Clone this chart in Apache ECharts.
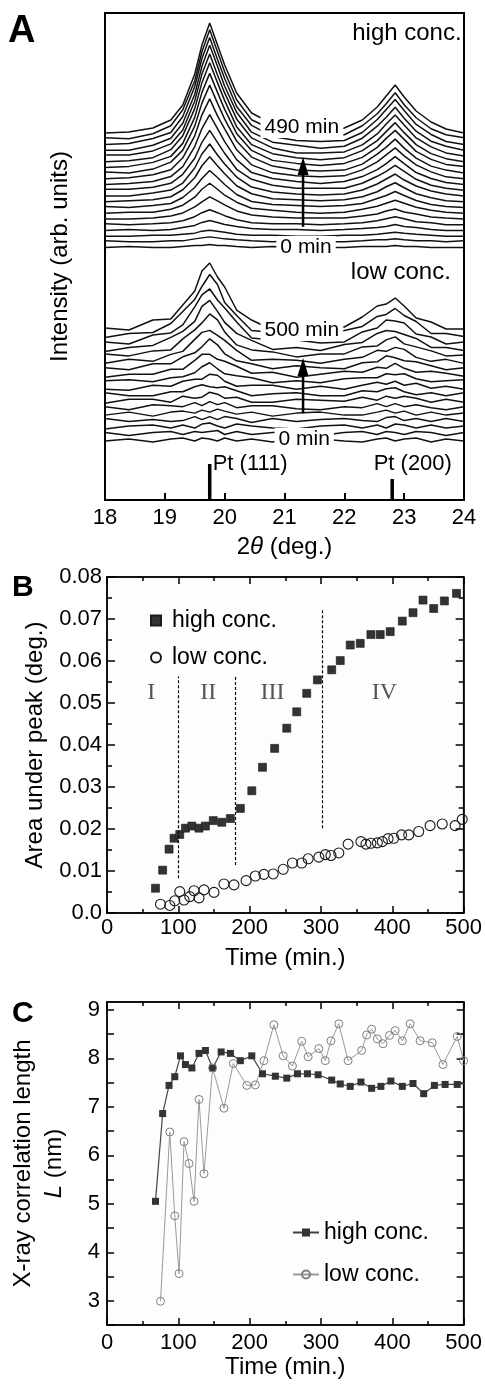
<!DOCTYPE html>
<html><head><meta charset="utf-8">
<script src="https://cdn.jsdelivr.net/npm/echarts@6/dist/echarts.min.js"></script>
<style>html,body{margin:0;padding:0;background:#fff}#c{width:485px;height:1385px}</style>
</head><body><div id="c"></div>
<script>
// ---------- Panel A: XRD waterfall ----------
const twoTheta = [18.0,18.4,18.8,19.1,19.3,19.5,19.62,19.75,19.88,20.0,20.2,20.45,20.8,21.2,21.6,22.0,22.3,22.55,22.7,22.85,23.0,23.2,23.45,23.7,24.0];
// high conc. curves, 0 min (first) ... 490 min (last), intensity above each curve's own baseline (arb. units)
const highCurves = [
 [0,1,0,0,1,2,2,3,2,2,1,0,1,0,0,0,1,1,1,2,1,1,0,0,0],
 [1,0,0,1,1,3,4,5,4,3,2,1,0,1,0,0,1,2,2,3,2,1,1,0,1],
 [0,0,1,1,2,3,5,6,5,4,2,1,1,0,0,1,1,2,3,4,3,2,1,0,0],
 [0,1,0,1,3,5,8,10,8,6,4,2,1,1,0,1,2,3,4,6,4,3,1,0,0],
 [1,0,1,2,4,8,12,15,12,9,5,2,1,1,0,1,2,4,6,8,6,3,2,0,0],
 [0,0,1,3,6,12,17,22,18,14,8,4,2,1,1,1,3,5,8,10,7,5,2,1,0],
 [0,1,1,4,8,16,24,30,24,18,11,5,3,1,0,1,4,7,10,13,10,6,3,1,0],
 [1,0,2,4,10,20,29,37,30,23,13,6,3,2,1,2,4,9,12,16,12,7,3,1,0],
 [0,1,2,5,12,24,36,45,36,28,16,8,3,2,1,2,5,10,15,19,14,8,4,1,0],
 [0,0,3,6,13,28,42,52,41,32,19,9,4,2,1,2,6,12,17,22,16,10,5,2,0],
 [1,1,3,7,16,32,48,60,48,37,21,11,5,2,2,2,7,14,19,25,19,11,5,2,0],
 [0,1,3,8,18,38,56,70,56,43,25,12,6,3,1,3,8,15,21,28,21,12,6,2,0],
 [0,1,4,9,21,43,64,80,63,50,29,14,6,3,2,3,9,17,24,31,23,14,7,2,0],
 [1,0,4,11,23,47,70,88,70,54,32,16,7,3,2,3,9,19,26,34,25,15,7,3,0],
 [0,1,5,11,24,50,75,94,75,58,34,17,7,4,2,4,10,20,29,37,28,16,8,3,1],
 [0,1,4,12,26,53,79,99,79,61,35,17,8,4,2,4,11,21,30,39,29,17,8,3,0],
 [1,1,5,12,26,55,82,102,81,63,37,18,8,3,3,4,11,22,32,41,31,18,9,3,0],
 [0,0,5,12,27,56,84,105,84,64,38,18,8,5,2,4,12,24,33,43,32,19,9,4,0],
 [0,1,6,12,28,58,86,107,85,66,38,19,8,4,3,4,12,25,35,45,34,20,10,3,0],
 [1,0,5,13,29,58,87,109,87,67,39,19,9,5,3,4,13,25,35,46,34,21,10,4,1],
 [0,1,5,13,28,59,88,110,88,68,40,20,9,5,3,5,13,26,37,48,36,22,11,4,0]
];
// low conc. curves, 0 min (first) ... 500 min (last)
const lowCurves = [
 [-1,1,-2,1,2,-1,2,1,-1,2,-1,1,-2,2,1,-1,-2,1,2,-1,1,2,-2,1,-1],
 [1,-2,1,2,-1,2,1,2,3,-1,2,-1,1,2,-2,1,2,-1,2,1,-1,2,1,-2,1],
 [-2,1,2,-1,2,-1,3,4,1,-1,3,1,-1,-2,1,2,-1,2,-1,3,2,-1,2,-1,1],
 [2,-1,1,-1,0,4,1,4,1,4,2,-2,2,-1,1,2,0,-1,3,4,0,2,-1,2,-1],
 [-1,2,-2,2,3,1,4,2,5,3,0,2,-2,1,2,-1,-1,2,4,1,3,-1,2,-1,1],
 [1,-2,3,2,1,5,2,6,3,5,0,2,2,-1,-2,1,0,4,1,4,1,3,0,-2,1],
 [-2,2,2,-1,5,3,4,9,7,3,4,-1,-1,2,1,0,4,1,5,3,5,3,-1,2,-1],
 [2,-1,-1,3,3,8,10,8,7,8,4,-1,1,2,-1,-1,4,3,6,7,3,0,2,-1,2],
 [-1,-2,3,2,7,9,9,14,13,7,2,3,3,-1,2,-1,3,6,4,7,3,5,0,2,-1],
 [1,2,0,4,5,9,15,19,13,8,6,4,-1,1,-1,3,4,4,8,7,8,3,0,1,2],
 [-2,1,1,6,6,15,21,21,16,14,9,2,3,-2,1,4,3,8,7,12,7,3,4,2,-1],
 [1,-1,5,5,12,16,22,30,24,15,8,5,0,3,1,0,6,7,13,11,8,7,3,-1,1],
 [-1,3,1,8,11,23,30,32,27,22,12,2,3,2,-1,3,5,12,11,15,13,5,1,3,-1],
 [2,0,5,6,17,26,33,42,36,24,11,6,4,-1,2,2,9,10,16,19,12,9,5,0,1],
 [-2,2,4,12,18,28,43,49,38,27,16,9,0,2,-1,5,7,16,19,18,15,11,2,2,-1],
 [1,-1,8,10,18,36,48,54,43,35,21,5,3,3,0,1,11,15,23,22,20,9,6,-1,1],
 [-1,3,4,13,25,37,50,62,52,34,21,6,4,-1,2,6,10,20,22,28,21,15,3,3,0],
 [2,0,10,11,25,39,59,67,53,43,20,10,0,2,4,3,13,24,26,32,24,12,8,1,1]
];
const highOffset0 = 252.4, highStep = 5.73;   // waterfall offsets (arb. units)
const lowOffset0 = 60, lowStep = 6.47;
const ptPos = [19.75, 22.8];
const ptIntensity = [36, 21];
const ptNames = ['Pt (111)', 'Pt (200)'];

// ---------- Panel B: area under peak ----------
const timeHighB = [68,78,87,94,102,110,119,129,138,149,161,173,187,203,218,235,252,266,280,295,315,327,341,355,370,383,397,414,429,443,458,473,490];
const areaHighB = [0.0059,0.0102,0.0152,0.0178,0.0187,0.0202,0.0207,0.0202,0.0207,0.0220,0.0216,0.0225,0.0249,0.0291,0.0347,0.0392,0.0440,0.0479,0.0523,0.0555,0.0579,0.0601,0.0638,0.0642,0.0663,0.0663,0.0670,0.0695,0.0715,0.0745,0.0725,0.0743,0.0761];
const timeLowB = [75,88,95,102,108,116,122,129,136,150,164,178,195,208,220,233,247,260,273,282,297,306,314,325,338,356,363,370,379,386,394,402,413,423,437,453,470,488,498];
const areaLowB = [0.0021,0.0018,0.0029,0.0051,0.0031,0.0039,0.0053,0.0036,0.0055,0.0049,0.0069,0.0067,0.0077,0.0088,0.0092,0.0093,0.0104,0.0119,0.0119,0.0129,0.0133,0.0139,0.0137,0.0143,0.0164,0.0170,0.0164,0.0166,0.0167,0.0170,0.0177,0.0178,0.0186,0.0186,0.0194,0.0208,0.0212,0.0208,0.0223];
const stageBounds = [100, 180, 302];
const stageNames = ['I','II','III','IV'];

// ---------- Panel C: correlation length ----------
const timeHighC = [68,78,87,95,103,110,119,129,138,148,160,173,187,203,218,236,252,267,281,296,315,327,341,356,371,384,398,414,429,444,459,474,491,505];
const lenHighC = [5.05,6.86,7.44,7.62,8.05,7.87,7.80,8.10,8.16,7.80,8.13,8.10,7.95,8.05,7.68,7.63,7.59,7.68,7.68,7.66,7.55,7.47,7.42,7.51,7.38,7.42,7.53,7.42,7.48,7.27,7.44,7.46,7.46,7.49];
const timeLowC = [75,88,95,101,108,115,122,129,136,148,164,177,196,208,220,234,247,260,273,282,297,306,314,325,338,357,364,371,379,387,396,404,414,425,439,456,471,491,500];
const lenLowC = [2.99,6.48,4.75,3.56,6.28,5.83,5.05,7.15,5.62,7.80,6.97,7.89,7.44,7.45,7.95,8.69,8.05,7.84,8.35,8.03,8.20,7.95,8.36,8.71,7.95,8.16,8.48,8.60,8.40,8.30,8.47,8.57,8.36,8.71,8.36,8.32,7.87,8.45,7.95];

const FONT = "'Liberation Sans', Arial, sans-serif";
const chart = echarts.init(document.getElementById('c'), null, {renderer:'canvas'});

const tickStyle = {color:'#000', width:1.5};
function baseX(grid, pos, showLabel, extra) {
  return Object.assign({
    gridIndex: grid, type:'value', position: pos, min:0, max:500, interval:100,
    axisLine:{show:true, onZero:false, lineStyle:{color:'#000', width:1.5}},
    axisTick:{show:true, inside:true, length:7, lineStyle:tickStyle},
    minorTick:{show:true, splitNumber:2, length:4, lineStyle:tickStyle},
    axisLabel:{show:showLabel, fontSize:22, color:'#000', fontFamily:FONT, margin:5},
    splitLine:{show:false}, minorSplitLine:{show:false}
  }, extra || {});
}

const series = [];
highCurves.forEach((c, n) => series.push({
  type:'line', xAxisIndex:0, yAxisIndex:0, symbol:'none', silent:true, z:2, animation:false,
  lineStyle:{color:'#111', width:1.5},
  data: twoTheta.map((x, i) => [x, highOffset0 + n * highStep + c[i]])
}));
lowCurves.forEach((c, n) => series.push({
  type:'line', xAxisIndex:0, yAxisIndex:0, symbol:'none', silent:true, z:2, animation:false,
  lineStyle:{color:'#111', width:1.5},
  data: twoTheta.map((x, i) => [x, lowOffset0 + n * lowStep + c[i]])
}));
// Pt reference sticks
ptPos.forEach((p, i) => series.push({
  type:'line', xAxisIndex:0, yAxisIndex:0, symbol:'none', silent:true, z:3, animation:false,
  lineStyle:{color:'#000', width:3.5},
  data:[[p, 0], [p, ptIntensity[i]]]
}));
// arrows
const arrowX = 21.31;
const arrows = [[273.3, 333], [86.7, 132]];
arrows.forEach(a => {
  series.push({type:'line', xAxisIndex:0, yAxisIndex:0, symbol:'none', silent:true, z:6, animation:false,
    lineStyle:{color:'#000', width:2.5}, data:[[arrowX, a[0]], [arrowX, a[1]]]});
  series.push({type:'scatter', xAxisIndex:0, yAxisIndex:0, silent:true, z:6, animation:false,
    symbol:'triangle', symbolSize:[11, 18], itemStyle:{color:'#000', opacity:1}, data:[[arrowX, a[1] + 1]]});
});
// panel A annotations
const annA = [
  {value:[21.29, 373], text:'490 min'},
  {value:[21.36, 253], text:'0 min'},
  {value:[21.29, 170], text:'500 min'},
  {value:[21.33, 61], text:'0 min'}
];
series.push({
  type:'scatter', xAxisIndex:0, yAxisIndex:0, symbolSize:0, silent:true, z:8, animation:false,
  itemStyle:{opacity:1},
  data: annA.map(a => ({value:a.value, label:{show:true, position:'inside', formatter:a.text,
    fontSize:21, color:'#000', fontFamily:FONT, backgroundColor:'#fff', padding:[1,4,0,4]}}))
});
series.push({
  type:'scatter', xAxisIndex:0, yAxisIndex:0, symbolSize:0, silent:true, z:8, animation:false,
  itemStyle:{opacity:1},
  data:[
    {value:[23.96, 467], label:{show:true, position:'left', distance:0, formatter:'high conc.', fontSize:24, color:'#000', fontFamily:FONT}},
    {value:[23.78, 228], label:{show:true, position:'left', distance:0, formatter:'low conc.', fontSize:24, color:'#000', fontFamily:FONT}},
    {value:[19.8, 36], label:{show:true, position:'right', distance:0, formatter:ptNames[0], fontSize:22, color:'#000', fontFamily:FONT}},
    {value:[22.49, 36], label:{show:true, position:'right', distance:0, formatter:ptNames[1], fontSize:22, color:'#000', fontFamily:FONT}}
  ]
});

// Panel B
series.push({
  name:'hB', type:'scatter', xAxisIndex:1, yAxisIndex:1, symbol:'rect', symbolSize:8, z:4, animation:false,
  itemStyle:{color:'#333', borderColor:'#1a1a1a', borderWidth:0.6, opacity:1},
  data: timeHighB.map((t, i) => [t, areaHighB[i]]),
  markLine:{silent:true, symbol:['none','none'], animation:false, label:{show:false},
    lineStyle:{type:[3,2], color:'#000', width:1.2},
    data:[
      [{coord:[stageBounds[0], 0.0083]}, {coord:[stageBounds[0], 0.0563]}],
      [{coord:[stageBounds[1], 0.0114]}, {coord:[stageBounds[1], 0.0563]}],
      [{coord:[stageBounds[2], 0.0202]}, {coord:[stageBounds[2], 0.0725]}]
    ]}
});
series.push({
  name:'lB', type:'scatter', xAxisIndex:1, yAxisIndex:1, symbol:'circle', symbolSize:10, z:4, animation:false,
  itemStyle:{color:'rgba(255,255,255,0)', borderColor:'#1a1a1a', borderWidth:1.1, opacity:1},
  data: timeLowB.map((t, i) => [t, areaLowB[i]])
});
const romanT = [62, 142, 232, 389];
series.push({
  type:'scatter', xAxisIndex:1, yAxisIndex:1, symbolSize:0, silent:true, z:5, animation:false,
  itemStyle:{opacity:1},
  data: stageNames.map((s, i) => ({value:[romanT[i], 0.0524], label:{show:true, position:'inside', formatter:s,
    fontSize:24, color:'#555', fontFamily:"'Liberation Serif','DejaVu Serif',serif"}}))
});

// Panel C
series.push({
  name:'hC', type:'line', xAxisIndex:3, yAxisIndex:3, symbol:'rect', symbolSize:7, z:4, animation:false,
  itemStyle:{color:'#333'}, lineStyle:{color:'#444', width:1.2},
  data: timeHighC.map((t, i) => [t, lenHighC[i]])
});
series.push({
  name:'lC', type:'line', xAxisIndex:3, yAxisIndex:3, symbol:'circle', symbolSize:8, z:4, animation:false,
  itemStyle:{color:'rgba(255,255,255,0)', borderColor:'#808080', borderWidth:1}, lineStyle:{color:'#9a9a9a', width:1},
  data: timeLowC.map((t, i) => [t, lenLowC[i]])
});

const option = {
  animation:false,
  backgroundColor:'#fff',
  textStyle:{fontFamily:FONT},
  grid:[
    {left:105, top:13, width:359, height:487, show:true, borderColor:'#000', borderWidth:2, backgroundColor:'transparent'},
    {left:107, top:577, width:357, height:336, show:true, borderColor:'#111', borderWidth:1.5, backgroundColor:'#fdfdfd'},
    {left:107, top:1002, width:358, height:323, show:true, borderColor:'#111', borderWidth:1.5, backgroundColor:'#fdfdfd'}
  ],
  xAxis:[
    {gridIndex:0, type:'value', min:18, max:24, interval:1,
     axisLine:{show:true, onZero:false, lineStyle:{color:'#000', width:2}},
     axisTick:{show:true, inside:true, length:7, lineStyle:{color:'#000', width:2}},
     axisLabel:{fontSize:22, color:'#000', fontFamily:FONT, margin:7},
     splitLine:{show:false},
     name:'2{i|θ} (deg.)', nameLocation:'middle', nameGap:35,
     nameTextStyle:{fontSize:24, color:'#000', fontFamily:FONT, rich:{i:{fontSize:24, fontStyle:'italic', fontFamily:FONT, color:'#000'}}}},
    baseX(1, 'bottom', true, {name:'Time (min.)', nameLocation:'middle', nameGap:33,
      nameTextStyle:{fontSize:24, color:'#000', fontFamily:FONT}, axisLabel:{show:true, fontSize:22, color:'#000', fontFamily:FONT, margin:4}}),
    baseX(1, 'top', false),
    baseX(2, 'bottom', true, {name:'Time (min.)', nameLocation:'middle', nameGap:30,
      nameTextStyle:{fontSize:24, color:'#000', fontFamily:FONT}, axisLabel:{show:true, fontSize:22, color:'#000', fontFamily:FONT, margin:7}}),
    baseX(2, 'top', false)
  ],
  yAxis:[
    {gridIndex:0, type:'value', min:0, max:487,
     axisLine:{show:true, lineStyle:{color:'#000', width:2}}, axisTick:{show:false}, axisLabel:{show:false}, splitLine:{show:false},
     name:'Intensity (arb. units)', nameLocation:'middle', nameGap:33, nameRotate:90,
     nameTextStyle:{fontSize:24, color:'#000', fontFamily:FONT}},
    {gridIndex:1, type:'value', position:'left', min:0, max:0.08, interval:0.01,
     axisLine:{show:true, onZero:false, lineStyle:{color:'#000', width:1.5}},
     axisTick:{show:true, inside:true, length:8, lineStyle:tickStyle},
     minorTick:{show:true, splitNumber:2, length:5, lineStyle:tickStyle},
     axisLabel:{fontSize:22, color:'#000', fontFamily:FONT, margin:5,
       formatter: v => Math.abs(v) < 1e-9 ? '0.0' : (Math.round(v * 100) / 100).toFixed(2)},
     splitLine:{show:false},
     name:'Area under peak (deg.)', nameLocation:'middle', nameGap:60, nameRotate:90,
     nameTextStyle:{fontSize:24, color:'#000', fontFamily:FONT}},
    {gridIndex:1, type:'value', position:'right', min:0, max:0.08, interval:0.01,
     axisLine:{show:true, onZero:false, lineStyle:{color:'#000', width:1.5}},
     axisTick:{show:true, inside:true, length:8, lineStyle:tickStyle},
     minorTick:{show:true, splitNumber:2, length:5, lineStyle:tickStyle},
     axisLabel:{show:false}, splitLine:{show:false}},
    {gridIndex:2, type:'value', position:'left', min:2.5, max:9.16, interval:0.5,
     axisLine:{show:true, onZero:false, lineStyle:{color:'#000', width:1.5}},
     axisTick:{show:true, inside:true, length:7, lineStyle:tickStyle},
     axisLabel:{fontSize:22, color:'#000', fontFamily:FONT, margin:7, showMaxLabel:false,
       formatter: v => (Math.abs(v - Math.round(v)) < 1e-6 && v <= 9.001) ? String(Math.round(v)) : ''},
     splitLine:{show:false},
     name:'{n|X-ray correlation length}\n{i|L}{n| (nm)}', nameLocation:'middle', nameGap:37, nameRotate:90,
     nameTextStyle:{fontSize:24, color:'#000', fontFamily:FONT, lineHeight:31,
       rich:{n:{fontSize:24, fontFamily:FONT, color:'#000', lineHeight:31}, i:{fontSize:24, fontStyle:'italic', fontFamily:FONT, color:'#000', lineHeight:31}}}},
    {gridIndex:2, type:'value', position:'right', min:2.5, max:9.16, interval:0.5,
     axisLine:{show:true, onZero:false, lineStyle:{color:'#000', width:1.5}},
     axisTick:{show:true, inside:true, length:7, lineStyle:tickStyle},
     axisLabel:{show:false}, splitLine:{show:false}}
  ],
  legend:[
    {data:['hB','lB'], left:145, top:604, orient:'vertical', itemWidth:10, itemHeight:10, itemGap:14, selectedMode:false,
     formatter: n => n === 'hB' ? 'high conc.' : 'low conc.',
     textStyle:{fontSize:23, color:'#000', fontFamily:FONT, padding:[0,0,0,6]}},
    {data:['hC','lC'], left:287, top:1216, orient:'vertical', itemWidth:26, itemHeight:10, itemGap:19, selectedMode:false,
     formatter: n => n === 'hC' ? 'high conc.' : 'low conc.',
     textStyle:{fontSize:23, color:'#000', fontFamily:FONT}}
  ],
  graphic:[
    {type:'text', left:8, top:13, style:{text:'A', font:'bold 38px ' + FONT, fill:'#000'}},
    {type:'text', left:12, top:573, style:{text:'B', font:'bold 30px ' + FONT, fill:'#000'}},
    {type:'text', left:12, top:999, style:{text:'C', font:'bold 30px ' + FONT, fill:'#000'}}
  ],
  series: series
};
chart.setOption(option);
</script>
</body></html>
